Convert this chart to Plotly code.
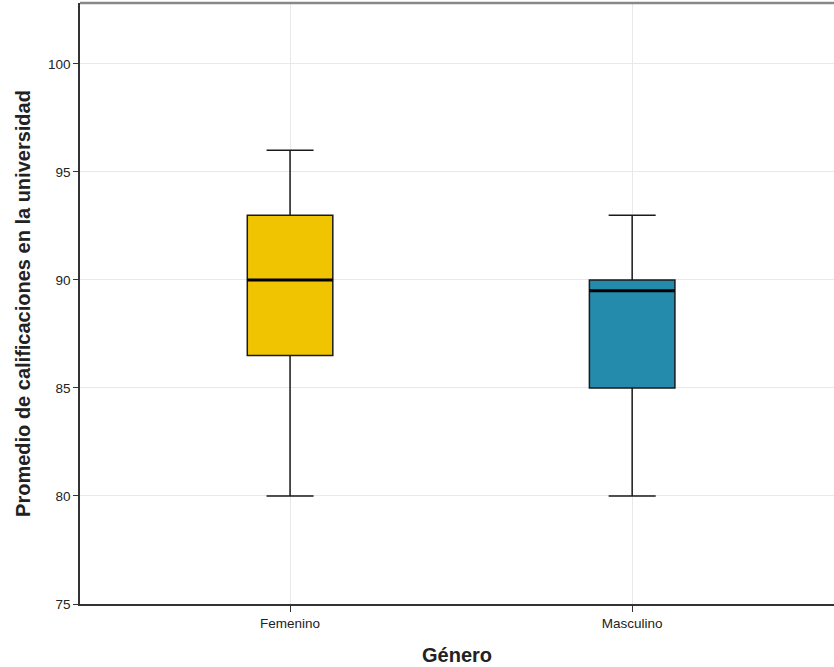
import plotly.graph_objects as go

categories = ["Femenino", "Masculino"]
lower = [80, 80]
q1 = [86.5, 85]
median = [90, 89.5]
q3 = [93, 90]
upper = [96, 93]
colors = ["#f0c400", "#248bac"]
yticks = [75, 80, 85, 90, 95, 100]

fig = go.Figure()
bw = 0.25
for i, c in enumerate(categories):
    fig.add_trace(go.Box(
        x=[i], q1=[q1[i]], median=[median[i]], q3=[q3[i]],
        lowerfence=[lower[i]], upperfence=[upper[i]],
        width=bw, whiskerwidth=0.55, fillcolor=colors[i],
        line=dict(color="#1a1a1a", width=1.5), boxpoints=False,
        hoverinfo="skip", showlegend=False, name=c,
    ))
    fig.add_trace(go.Scatter(
        x=[i - bw / 2, i + bw / 2], y=[median[i], median[i]], mode="lines",
        line=dict(color="black", width=3), showlegend=False, hoverinfo="skip",
    ))

fig.update_layout(
    width=834, height=667,
    margin=dict(l=80, r=0, t=3, b=63),
    paper_bgcolor="white", plot_bgcolor="white",
    font=dict(family="Liberation Sans, Arial, sans-serif", color="#222", size=14),
    xaxis=dict(
        range=[-0.614, 1.59], tickmode="array", tickvals=[0, 1], ticktext=categories,
        showgrid=True, gridcolor="#e8e8e8", gridwidth=1, zeroline=False,
        showline=True, linecolor="#333", linewidth=2,
        ticks="outside", ticklen=6, tickcolor="#333",
        tickfont=dict(size=13.5),
        title=dict(text="<b>Género</b>", font=dict(size=20, color="#222"), standoff=18),
    ),
    yaxis=dict(
        range=[75, 102.82], tickmode="array", tickvals=yticks,
        showgrid=True, gridcolor="#e8e8e8", gridwidth=1, zeroline=False,
        showline=True, linecolor="#333", linewidth=1.5,
        ticks="outside", ticklen=5, tickcolor="#333",
        tickfont=dict(size=13.5),
        title=dict(text="<b>Promedio de calificaciones en la universidad</b>",
                   font=dict(size=20, color="#222"), standoff=12),
    ),
    shapes=[dict(type="line", xref="paper", yref="paper", x0=0, x1=1, y0=1, y1=1,
                 line=dict(color="#888", width=2.5))],
)

fig.write_html("out.html", config={"displayModeBar": False},
               post_script="document.body.style.margin='0';")
